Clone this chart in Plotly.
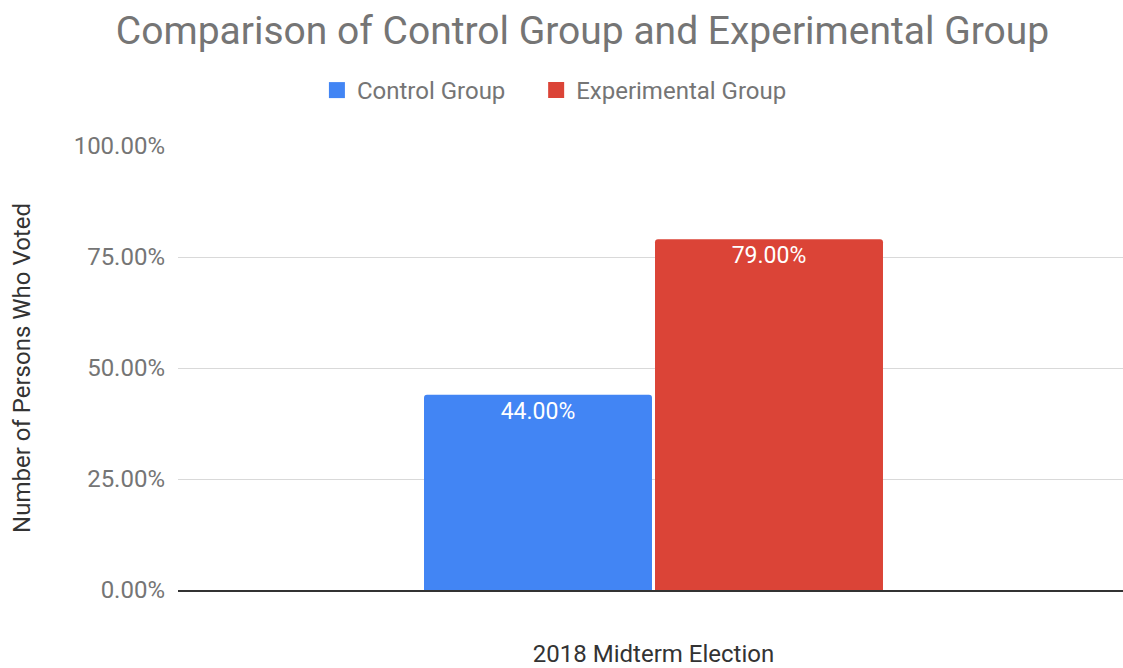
import plotly.graph_objects as go

categories = ["2018 Midterm Election"]
series_names = ["Control Group", "Experimental Group"]
control_values = [0.44]
experimental_values = [0.79]
colors = ["#4285f4", "#db4437"]

fig = go.Figure()
for name, vals, col in zip(series_names, [control_values, experimental_values], colors):
    fig.add_trace(go.Bar(
        x=categories, y=vals, name=name, showlegend=False,
        marker=dict(color=col, line=dict(width=0), cornerradius=3),
        texttemplate="%{y:.2%}", textposition="inside", insidetextanchor="end",
        textfont=dict(color="white", size=23, family="Roboto"),
        hoverinfo="skip",
    ))
# legend entries with larger square swatches, each in its own legend box
legend_ids = ["legend", "legend2"]
for name, col, lg in zip(series_names, colors, legend_ids):
    fig.add_trace(go.Scatter(
        x=[None], y=[None], mode="markers", name=name, legend=lg,
        marker=dict(symbol="square", size=22, color=col), hoverinfo="skip",
    ))

legend_style = dict(orientation="h", yanchor="middle", y=1.125, xanchor="left",
                    font=dict(size=24, color="#757575"), itemsizing="trace",
                    bgcolor="rgba(0,0,0,0)")

fig.update_layout(
    width=1123, height=668,
    margin=dict(l=178, r=0, t=146, b=78, autoexpand=False),
    paper_bgcolor="white", plot_bgcolor="white",
    font=dict(family="Roboto", color="#757575"),
    title=dict(text="Comparison of Control Group and Experimental Group",
               x=0.5187, xanchor="center", y=0.955, yanchor="middle",
               font=dict(size=39, color="#757575", family="Roboto")),
    legend=dict(x=0.147, **legend_style),
    legend2=dict(x=0.379, **legend_style),
    barmode="group", bargap=0.508, bargroupgap=0.013,
    showlegend=True,
)
fig.update_yaxes(range=[0, 1], tickvals=[0, 0.25, 0.5, 0.75, 1.0], tickformat=".2%",
                 showgrid=True, gridcolor="#d9d9d9", gridwidth=1, zeroline=False,
                 tickfont=dict(size=24, color="#757575"), ticks="", ticklabelstandoff=12,
                 automargin=False,
                 title=dict(text="Number of Persons Who Voted", standoff=36,
                            font=dict(size=24, color="#333333")))
fig.update_xaxes(showline=True, linecolor="#333333", linewidth=1.5, range=[-0.5064, 0.5],
                 automargin=False,
                 tickfont=dict(size=24, color="#333333"), ticks="", ticklabelstandoff=41)

fig.write_html("out.html")
